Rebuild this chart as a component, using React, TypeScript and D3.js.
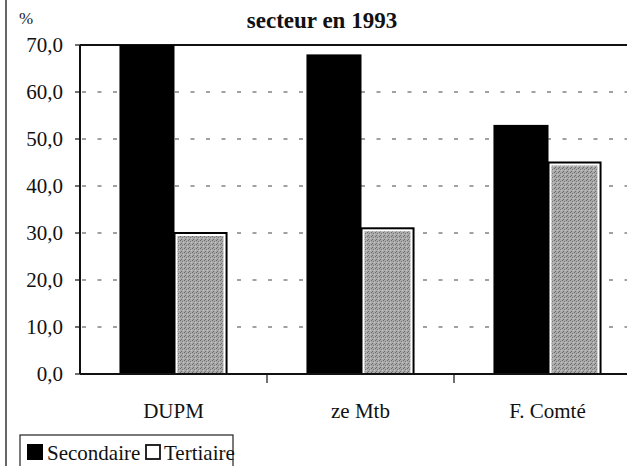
import React from "react";
import * as d3 from "d3";

const categories = ["DUPM", "ze Mtb", "F. Comté"];
const series = ["Secondaire", "Tertiaire"];
const secondaire = [70, 68, 53];
const tertiaire = [30, 31, 45];
const yTicks = [0, 10, 20, 30, 40, 50, 60, 70];

const W = 627;
const H = 466;
const FF = '"Times New Roman", "Liberation Serif", Tinos, serif';
const txt = (size: number, bold = false): React.CSSProperties =>
  bold ? { fontFamily: FF, fontSize: size, fontWeight: "bold" } : { fontFamily: FF, fontSize: size };

export default function App() {
  const left = 80;
  const right = 641;
  const top = 45;
  const bottom = 374;

  const y = d3.scaleLinear().domain([0, 70]).range([bottom, top]);
  const x0 = d3.scaleBand<string>().domain(categories).range([left, right]).paddingInner(0).paddingOuter(0);
  const x1 = d3
    .scaleBand<string>()
    .domain(series)
    .range([0, x0.bandwidth()])
    .paddingInner(0)
    .paddingOuter(0.73);

  const fmt = (v: number) => v.toFixed(1).replace(".", ",");
  const values = [secondaire, tertiaire];

  return (
    <svg width={W} height={H} fontFamily={FF} style={{ display: "block", position: "absolute", left: 0, top: 0, fontFamily: FF }}>
      <defs>
        <pattern id="stip" width="4" height="4" patternUnits="userSpaceOnUse">
          <rect width="4" height="4" fill="#a9a9a9" />
          <rect x="0" y="0" width="1" height="1" fill="#6a6a6a" />
          <rect x="2" y="1" width="1" height="1" fill="#7a7a7a" />
          <rect x="1" y="3" width="1" height="1" fill="#6f6f6f" />
          <rect x="3" y="2" width="1" height="1" fill="#c8c8c8" />
        </pattern>
      </defs>
      <rect width={W} height={H} fill="#fff" />
      <line x1={6} x2={6} y1={0} y2={H} stroke="#333" strokeWidth={1.5} />

      <text x={322} y={28} textAnchor="middle" fontFamily={FF} style={txt(23, true)} fill="#111">
        secteur en 1993
      </text>
      <text x={19} y={24} fontFamily={FF} style={txt(17)} fill="#222">%</text>

      {yTicks.filter((t) => t > 0 && t < 70).map((t) => (
        <line key={t} x1={left} x2={W} y1={y(t)} y2={y(t)} stroke="#444" strokeWidth={1.2} strokeDasharray="4,11.5" strokeDashoffset={-2} />
      ))}
      <line x1={left} x2={W} y1={top} y2={top} stroke="#111" strokeWidth={2} />

      {categories.map((c, i) => (
        <g key={c} transform={`translate(${x0(c)},0)`}>
          <rect x={x1("Secondaire")} y={y(values[0][i])} width={x1.bandwidth() + 1} height={bottom - y(values[0][i])} fill="#000" />
          <rect
            x={(x1("Tertiaire") as number) + 1}
            y={y(values[1][i])}
            width={x1.bandwidth() - 2}
            height={bottom - y(values[1][i])}
            fill="#fff"
            stroke="#000"
            strokeWidth={2}
          />
          <rect
            x={(x1("Tertiaire") as number) + 4}
            y={y(values[1][i]) + 3}
            width={x1.bandwidth() - 8}
            height={bottom - y(values[1][i]) - 3}
            fill="url(#stip)"
          />
        </g>
      ))}

      <line x1={left} x2={left} y1={top} y2={bottom} stroke="#111" strokeWidth={2} />
      <line x1={left} x2={W} y1={bottom} y2={bottom} stroke="#111" strokeWidth={2} />
      {yTicks.map((t) => (
        <g key={t}>
          <line x1={left - 5} x2={left} y1={y(t)} y2={y(t)} stroke="#111" strokeWidth={1.2} />
          <text x={63} y={y(t) + 7} textAnchor="end" fontFamily={FF} style={txt(21)} fill="#111">
            {fmt(t)}
          </text>
        </g>
      ))}
      {categories.slice(1).map((c) => (
        <line key={c} x1={x0(c)} x2={x0(c)} y1={bottom} y2={bottom + 9} stroke="#111" strokeWidth={1.2} />
      ))}
      {categories.map((c) => (
        <text key={c} x={(x0(c) as number) + x0.bandwidth() / 2} y={418} textAnchor="middle" fontFamily={FF} style={txt(21)} fill="#111">
          {c}
        </text>
      ))}

      <rect x={20} y={435} width={213} height={40} fill="#fff" stroke="#222" strokeWidth={1.2} />
      <rect x={27} y={444} width={16} height={16} fill="#000" />
      <text x={47} y={460} fontFamily={FF} style={txt(21)} fill="#111">{series[0]}</text>
      <rect x={146} y={445} width={14} height={14} fill="#fff" stroke="#111" strokeWidth={1.8} />
      <text x={164} y={460} fontFamily={FF} style={txt(21)} fill="#111">{series[1]}</text>
    </svg>
  );
}
